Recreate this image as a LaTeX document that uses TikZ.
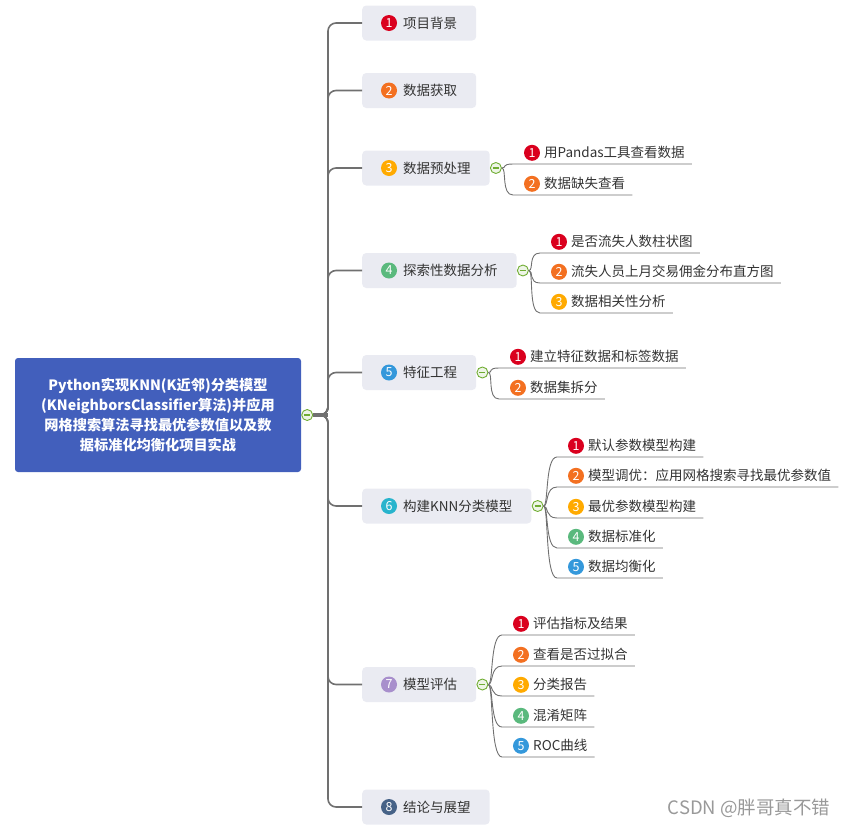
\documentclass[tikz,border=0pt]{standalone}
\usepackage{fontspec}
\setmainfont{Noto Sans CJK SC}
\usepackage{tikz}
\usetikzlibrary{positioning, calc}
\usepackage{xcolor}
\definecolor{rootblue}{RGB}{66,95,188}
\definecolor{boxgray}{RGB}{234,235,242}
\definecolor{linegray}{RGB}{112,112,112}
\definecolor{textgray}{RGB}{51,51,51}
\definecolor{togglegreen}{RGB}{112,173,51}
\definecolor{num1}{RGB}{218,0,30}
\definecolor{num2}{RGB}{243,112,33}
\definecolor{num3}{RGB}{255,170,0}
\definecolor{num4}{RGB}{90,185,125}
\definecolor{num5}{RGB}{52,152,219}
\definecolor{num6}{RGB}{40,180,205}
\definecolor{num7}{RGB}{168,143,204}
\definecolor{num8}{RGB}{70,98,135}
\newcommand\rootfont{\fontsize{14.2}{20.3}\selectfont\bfseries}
\newcommand\nodefont{\fontsize{13.5}{16}\selectfont}
\newcommand\badgefont{\fontsize{12.5}{13}\selectfont}
\newcommand\markfont{\fontsize{18.5}{20}\selectfont}

\begin{document}
\begin{tikzpicture}[x=1pt, y=-1pt,
  root/.style={fill=rootblue, rounded corners=3, text=white, align=center, minimum width=286, minimum height=114, font=\rootfont},
  topic/.style={fill=boxgray, rounded corners=4, anchor=west, minimum height=35, inner xsep=19, text=textgray, font=\nodefont},
  leaf/.style={anchor=south west, minimum height=22, inner sep=0, text=textgray, font=\nodefont},
  badge/.style={circle, fill=#1, text=white, minimum size=16, inner sep=0, font=\badgefont},
  toggle/.style={circle, draw=togglegreen, fill=togglegreen!12, line width=0.9, minimum size=11, inner sep=0,
    path picture={\draw[togglegreen, line width=1.1] ([xshift=-3pt]path picture bounding box.center) -- ([xshift=3pt]path picture bounding box.center);}},
  trunk/.style={draw=linegray, line width=1.6, rounded corners=8},
  branch/.style={draw=linegray, line width=0.9},
]
\useasboundingbox (0,0) rectangle (850,830);

% root
\node[root] (root) at (158,415) {Python实现KNN(K近邻)分类模型\\(KNeighborsClassifier算法)并应用\\网格搜索算法寻找最优参数值以及数\\据标准化均衡化项目实战};
\coordinate (hub) at (328,415);

% main topics
\node[topic] (b1) at (362,23) {\hspace*{22pt}项目背景};
\node[topic] (b2) at (362,90.5) {\hspace*{22pt}数据获取};
\node[topic] (b3) at (362,168) {\hspace*{22pt}数据预处理};
\node[topic] (b4) at (362,270.5) {\hspace*{22pt}探索性数据分析};
\node[topic] (b5) at (362,372.5) {\hspace*{22pt}特征工程};
\node[topic] (b6) at (362,506) {\hspace*{22pt}构建KNN分类模型};
\node[topic] (b7) at (362,684.5) {\hspace*{22pt}模型评估};
\node[topic] (b8) at (362,807) {\hspace*{22pt}结论与展望};
\foreach \i in {1,...,8}
  \node[badge=num\i] (n\i) at ([xshift=27]b\i.west) {\i};

\node[toggle] (rc) at ([xshift=6]root.east) {};
\foreach \i in {1,...,8}
  \draw[trunk] (rc.east) -- (hub) |- (b\i.west);
\draw[trunk, line width=3.2] (rc.east) -- (hub);

\node[toggle] (t3) at ([xshift=6]b3.east) {};
\node[toggle] (t4) at ([xshift=6]b4.east) {};
\node[toggle] (t5) at ([xshift=6]b5.east) {};
\node[toggle] (t6) at ([xshift=6]b6.east) {};
\node[toggle] (t7) at ([xshift=6]b7.east) {};

% sub topics
\foreach \y/\n/\txt in {164/1/用Pandas工具查看数据, 195/2/数据缺失查看} {
  \node[leaf] (c3\n) at (513,\y) {\hspace*{31pt}\txt\hspace*{7pt}};
  \node[badge=num\n] (m3\n) at ([xshift=19]c3\n.west) {\n};
  \draw[branch] (t3.east) .. controls +(5,0) and +(-12,0) .. (c3\n.south west) -- (c3\n.south east);
}
\foreach \y/\n/\txt in {253/1/是否流失人数柱状图, 283/2/流失人员上月交易佣金分布直方图, 313/3/数据相关性分析} {
  \node[leaf] (c4\n) at (540,\y) {\hspace*{31pt}\txt\hspace*{7pt}};
  \node[badge=num\n] (m4\n) at ([xshift=19]c4\n.west) {\n};
  \draw[branch] (t4.east) .. controls +(5,0) and +(-12,0) .. (c4\n.south west) -- (c4\n.south east);
}
\foreach \y/\n/\txt in {368/1/建立特征数据和标签数据, 399/2/数据集拆分} {
  \node[leaf] (c5\n) at (499,\y) {\hspace*{31pt}\txt\hspace*{7pt}};
  \node[badge=num\n] (m5\n) at ([xshift=19]c5\n.west) {\n};
  \draw[branch] (t5.east) .. controls +(5,0) and +(-12,0) .. (c5\n.south west) -- (c5\n.south east);
}
\foreach \y/\n/\txt in {457/1/默认参数模型构建, 487/2/模型调优：应用网格搜索寻找最优参数值, 518/3/最优参数模型构建, 548/4/数据标准化, 578/5/数据均衡化} {
  \node[leaf] (c6\n) at (557,\y) {\hspace*{31pt}\txt\hspace*{7pt}};
  \node[badge=num\n] (m6\n) at ([xshift=19]c6\n.west) {\n};
  \draw[branch] (t6.east) .. controls +(5,0) and +(-12,0) .. (c6\n.south west) -- (c6\n.south east);
}
\foreach \y/\n/\txt in {635/1/评估指标及结果, 666/2/查看是否过拟合, 696/3/分类报告, 727/4/混淆矩阵, 757/5/ROC曲线} {
  \node[leaf] (c7\n) at (502,\y) {\hspace*{31pt}\txt\hspace*{7pt}};
  \node[badge=num\n] (m7\n) at ([xshift=19]c7\n.west) {\n};
  \draw[branch] (t7.east) .. controls +(5,0) and +(-12,0) .. (c7\n.south west) -- (c7\n.south east);
}

\node[text=gray!80, font=\markfont] (mark) at (749,808) {CSDN @胖哥真不错};
\end{tikzpicture}
\end{document}
